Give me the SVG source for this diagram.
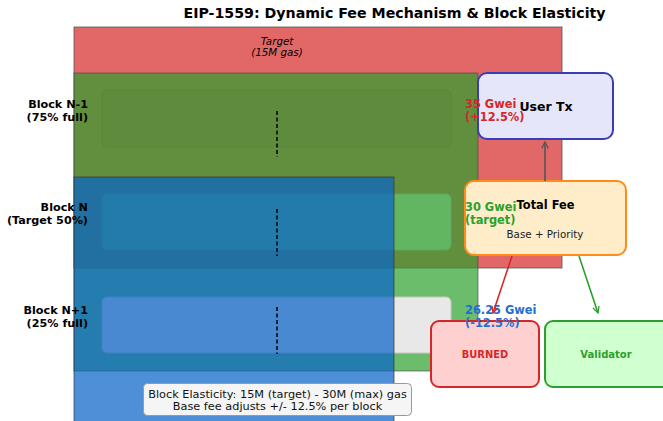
<svg xmlns="http://www.w3.org/2000/svg" width="663" height="421" viewBox="0 0 663 421">
<defs>
<style>
text{font-family:"DejaVu Sans","Liberation Sans",sans-serif}
.t{font-weight:bold;font-size:14.2px;fill:#000}
.lbl{font-weight:bold;font-size:11.2px;fill:#000;text-anchor:end}
.pr{font-weight:bold;font-size:11.4px}
.node{stroke-width:2}
.dash{stroke:#000;stroke-width:1.5;stroke-dasharray:4 2.5}
</style>
<marker id="ag" viewBox="0 0 10 10" refX="9" refY="5" markerWidth="8" markerHeight="8" orient="auto" markerUnits="userSpaceOnUse"><path d="M1,1 L9,5 L1,9" fill="none" stroke="#555" stroke-width="1.6"/></marker>
<marker id="ar" viewBox="0 0 10 10" refX="9" refY="5" markerWidth="8" markerHeight="8" orient="auto" markerUnits="userSpaceOnUse"><path d="M1,1 L9,5 L1,9" fill="none" stroke="#d62728" stroke-width="1.6"/></marker>
<marker id="agn" viewBox="0 0 10 10" refX="9" refY="5" markerWidth="8" markerHeight="8" orient="auto" markerUnits="userSpaceOnUse"><path d="M1,1 L9,5 L1,9" fill="none" stroke="#2ca02c" stroke-width="1.6"/></marker>
</defs>
<rect width="663" height="421" fill="#fff"/>
<text class="t" x="394.5" y="18" text-anchor="middle">EIP-1559: Dynamic Fee Mechanism &amp; Block Elasticity</text>

<g id="capacity">
<rect x="74" y="27" width="488" height="241" fill="#e26868" stroke="#555" stroke-width="1" stroke-opacity=".8"/>
<text x="277" y="44.5" text-anchor="middle" font-style="italic" font-size="10.3">Target</text>
<text x="277" y="55.5" text-anchor="middle" font-style="italic" font-size="10.3">(15M gas)</text>
<rect x="74" y="73" width="404" height="298" fill="#2ca02c" fill-opacity=".7" stroke="#444" stroke-opacity=".6" stroke-width="1"/>
</g>

<g id="block-n-1">
<rect x="102" y="90" width="349" height="57" rx="5" fill="#5e8c3c" stroke="#58843a" stroke-width="1"/>
</g>
<g id="block-n">
<rect x="102" y="194" width="349" height="56" rx="5" fill="#62b662" stroke="#5aaa5a" stroke-width="1"/>
</g>
<g id="block-n1">
<rect x="102" y="297" width="349" height="56" rx="5" fill="#e8e8e8" stroke="#c8c8c8" stroke-width="1"/>
</g>

<g id="elastic">
<rect x="74" y="177" width="320" height="250" fill="#0a64c8" fill-opacity=".72" stroke="#333" stroke-opacity=".7" stroke-width="1"/>
</g>

<g id="row-labels">
<text class="lbl" x="88" y="107.5">Block N-1</text>
<text class="lbl" x="88" y="120.5">(75% full)</text>
<text class="lbl" x="88" y="211">Block N</text>
<text class="lbl" x="88" y="224">(Target 50%)</text>
<text class="lbl" x="88" y="314">Block N+1</text>
<text class="lbl" x="88" y="327">(25% full)</text>
</g>

<g id="dashes">
<line class="dash" x1="277" y1="111" x2="277" y2="157"/>
<line class="dash" x1="277" y1="209" x2="277" y2="256"/>
<line class="dash" x1="277" y1="307" x2="277" y2="354"/>
</g>

<g id="user-tx">
<rect class="node" x="478" y="73" width="135" height="66" rx="9" fill="#e6e6fa" stroke="#3c3cb4"/>
<text x="546" y="110.5" text-anchor="middle" font-weight="bold" font-size="12.5">User Tx</text>
</g>
<g id="total-fee">
<rect class="node" x="465" y="181" width="161" height="74" rx="9" fill="#ffecc8" stroke="#ff8c1a"/>
<text x="545.5" y="209" text-anchor="middle" font-weight="bold" font-size="11.4">Total Fee</text>
<text x="545" y="237.5" text-anchor="middle" font-size="10.3" fill="#222">Base + Priority</text>
</g>
<g id="burned">
<rect class="node" x="431" y="321" width="108" height="66" rx="8" fill="#ffd0d0" stroke="#d62728"/>
<text x="485" y="357.5" text-anchor="middle" font-weight="bold" font-size="9.9" fill="#d62728">BURNED</text>
</g>
<g id="validator">
<rect class="node" x="545" y="321" width="125" height="66" rx="8" fill="#d0ffd0" stroke="#2ca02c"/>
<text x="606" y="357.5" text-anchor="middle" font-weight="bold" font-size="10" fill="#2ca02c">Validator</text>
</g>

<g id="prices">
<text class="pr" x="465" y="107.5" fill="#d62728">35 Gwei</text>
<text class="pr" x="465" y="120.5" fill="#d62728">(+12.5%)</text>
<text class="pr" x="465" y="211" fill="#2ca02c">30 Gwei</text>
<text class="pr" x="465" y="224" fill="#2ca02c">(target)</text>
<text class="pr" x="465" y="314" fill="#1f6fd1">26.25 Gwei</text>
<text class="pr" x="465" y="327" fill="#1f6fd1">(-12.5%)</text>
</g>

<g id="connectors">
<line x1="545" y1="181" x2="545" y2="142" stroke="#555" stroke-width="1.6" marker-end="url(#ag)"/>
<line x1="512" y1="256" x2="493" y2="313" stroke="#d62728" stroke-width="1.6" marker-end="url(#ar)"/>
<line x1="579" y1="256" x2="598" y2="313" stroke="#2ca02c" stroke-width="1.6" marker-end="url(#agn)"/>
</g>

<g id="note">
<rect x="143.5" y="383.5" width="268" height="32" rx="4" fill="#f5f5f5" stroke="#999" stroke-width="1"/>
<text x="277.5" y="397.5" text-anchor="middle" font-size="11.3" fill="#111">Block Elasticity: 15M (target) - 30M (max) gas</text>
<text x="277.5" y="410" text-anchor="middle" font-size="11.3" fill="#111">Base fee adjusts +/- 12.5% per block</text>
</g>
</svg>
